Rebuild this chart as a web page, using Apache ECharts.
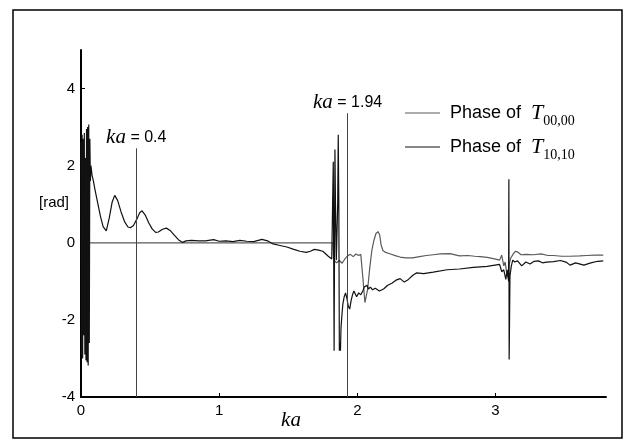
<!DOCTYPE html>
<html><head><meta charset="utf-8">
<script src="https://cdn.jsdelivr.net/npm/echarts@6/dist/echarts.min.js"></script>
<style>html,body{margin:0;padding:0;background:#fff}#c{width:636px;height:446px}</style>
</head><body><div id="c"></div>
<script>
// Phase of T00,00 (grey)
const ka00 = [0.000, 1.822, 1.830, 1.850, 1.870, 1.890, 1.910, 1.930, 1.950, 1.970, 1.990, 2.010, 2.025, 2.040, 2.055, 2.065, 2.075, 2.090, 2.105, 2.120, 2.135, 2.150, 2.162, 2.172, 2.185, 2.205, 2.240, 2.280, 2.310, 2.350, 2.400, 2.450, 2.500, 2.550, 2.600, 2.670, 2.740, 2.800, 2.850, 2.890, 2.940, 2.985, 3.030, 3.045, 3.060, 3.070, 3.080, 3.090, 3.100, 3.110, 3.120, 3.130, 3.145, 3.165, 3.185, 3.220, 3.275, 3.330, 3.380, 3.420, 3.480, 3.540, 3.610, 3.660, 3.720, 3.780];
const phase00 = [0, 0, -0.45, -0.52, -0.46, -0.53, -0.42, -0.34, -0.30, -0.36, -0.29, -0.33, -0.30, -0.90, -1.55, -1.60, -1.20, -0.65, -0.20, 0.06, 0.24, 0.29, 0.20, -0.05, -0.20, -0.25, -0.29, -0.34, -0.37, -0.39, -0.39, -0.36, -0.33, -0.31, -0.29, -0.28, -0.34, -0.33, -0.35, -0.36, -0.38, -0.41, -0.45, -0.32, -0.60, -0.50, -0.75, -0.90, -0.55, -0.40, -0.45, -0.28, -0.22, -0.25, -0.31, -0.30, -0.31, -0.29, -0.33, -0.33, -0.35, -0.35, -0.34, -0.33, -0.32, -0.32];

// Phase of T10,10 (black)
const ka10 = [0.000, 0.004, 0.008, 0.012, 0.016, 0.020, 0.024, 0.028, 0.032, 0.036, 0.040, 0.044, 0.048, 0.052, 0.056, 0.060, 0.064, 0.068, 0.072, 0.080, 0.090, 0.100, 0.120, 0.140, 0.160, 0.183, 0.205, 0.225, 0.244, 0.265, 0.290, 0.315, 0.340, 0.357, 0.380, 0.405, 0.425, 0.442, 0.465, 0.490, 0.515, 0.540, 0.560, 0.590, 0.618, 0.645, 0.675, 0.705, 0.735, 0.760, 0.800, 0.850, 0.900, 0.960, 1.000, 1.050, 1.100, 1.150, 1.200, 1.250, 1.310, 1.350, 1.390, 1.440, 1.490, 1.540, 1.585, 1.630, 1.660, 1.690, 1.720, 1.750, 1.790, 1.815, 1.822, 1.826, 1.832, 1.838, 1.842, 1.848, 1.853, 1.858, 1.862, 1.866, 1.870, 1.874, 1.878, 1.882, 1.888, 1.895, 1.905, 1.915, 1.925, 1.935, 1.945, 1.955, 1.965, 1.975, 1.985, 1.995, 2.010, 2.025, 2.040, 2.050, 2.058, 2.064, 2.070, 2.080, 2.095, 2.110, 2.130, 2.160, 2.190, 2.220, 2.250, 2.280, 2.310, 2.340, 2.370, 2.400, 2.430, 2.480, 2.550, 2.650, 2.740, 2.840, 2.940, 3.030, 3.045, 3.060, 3.075, 3.085, 3.095, 3.097, 3.099, 3.105, 3.115, 3.125, 3.140, 3.160, 3.190, 3.220, 3.250, 3.280, 3.310, 3.340, 3.370, 3.420, 3.470, 3.510, 3.540, 3.580, 3.640, 3.690, 3.740, 3.780];
const phase10 = [2.60, -2.90, 2.80, -3.00, 2.70, -2.40, 2.85, -2.90, 2.20, -3.05, 2.95, -3.10, 3.00, -3.18, 3.07, -2.60, 2.70, 1.60, 2.00, 1.75, 1.60, 1.40, 1.05, 0.70, 0.42, 0.31, 0.65, 1.05, 1.23, 1.10, 0.80, 0.55, 0.41, 0.39, 0.45, 0.62, 0.78, 0.83, 0.72, 0.52, 0.36, 0.27, 0.28, 0.35, 0.38, 0.32, 0.20, 0.08, 0.01, 0.05, 0.06, 0.05, 0.05, 0.08, 0.04, 0.05, 0.03, 0.06, 0.04, 0.03, 0.09, 0.05, -0.03, -0.07, -0.11, -0.17, -0.22, -0.25, -0.22, -0.17, -0.19, -0.22, -0.35, -0.42, -0.45, 2.10, -2.80, 2.42, 1.00, -0.45, -0.50, 1.00, 2.80, 1.10, -2.80, -2.60, -2.80, -2.20, -1.90, -1.60, -1.40, -1.30, -1.45, -1.65, -1.72, -1.50, -1.35, -1.25, -1.30, -1.40, -1.30, -1.35, -1.25, -1.15, -1.20, -1.15, -1.10, -1.20, -1.15, -1.22, -1.18, -1.25, -1.20, -1.10, -1.05, -0.97, -0.93, -1.02, -0.95, -0.85, -0.78, -0.80, -0.76, -0.70, -0.68, -0.64, -0.61, -0.56, -0.75, -0.70, -0.95, -0.70, -1.00, 1.65, -3.03, -0.85, -0.60, -0.45, -0.50, -0.47, -0.60, -0.50, -0.55, -0.48, -0.47, -0.52, -0.50, -0.49, -0.46, -0.50, -0.58, -0.52, -0.58, -0.52, -0.48, -0.47];

// marker lines
const markerKa = [0.4, 1.93];
const markerTop = [2.45, 3.36];
const markerText = ['0.4', '1.94'];

// axis ticks
const xTicks = [0, 1, 2, 3];
const yTicks = [-4, -2, 0, 2, 4];

const zip = (a, b) => a.slice(0, Math.min(a.length, b.length)).map((v, i) => [v, b[i]]);

const SANS = 'Liberation Sans, Arial, sans-serif';
const SERIF = 'Liberation Serif, Times New Roman, serif';

const chart = echarts.init(document.getElementById('c'), null, {renderer: 'canvas'});
chart.setOption({
  backgroundColor: '#fff',
  animation: false,
  grid: {left: 81, right: 30, top: 50, bottom: 49, containLabel: false},
  xAxis: {
    type: 'value', min: 0, max: 3.8,
    axisLine: {onZero: false, lineStyle: {color: '#000', width: 2}},
    axisTick: {inside: true, length: 4, lineStyle: {color: '#000', width: 1}, customValues: xTicks},
    axisLabel: {customValues: xTicks, color: '#000', fontFamily: SANS, fontSize: 15, margin: 6},
    splitLine: {show: false}
  },
  yAxis: {
    type: 'value', min: -4, max: 5,
    axisLine: {show: true, onZero: false, lineStyle: {color: '#000', width: 2}},
    axisTick: {show: true, inside: true, length: 4, lineStyle: {color: '#000', width: 1}, customValues: yTicks},
    axisLabel: {customValues: yTicks, color: '#000', fontFamily: SANS, fontSize: 15, margin: 6},
    splitLine: {show: false}
  },
  legend: {
    orient: 'vertical', left: 400, top: 97, itemWidth: 35, itemHeight: 1.2, itemGap: 8,
    icon: 'rect',
    data: ['T00', 'T10'],
    textStyle: {
      padding: [0, 0, 0, 5],
      rich: {
        p: {fontFamily: SANS, fontSize: 18, color: '#000', lineHeight: 22},
        t: {fontFamily: SERIF, fontStyle: 'italic', fontSize: 22, color: '#000', lineHeight: 22},
        s: {fontFamily: SERIF, fontSize: 14, color: '#000', verticalAlign: 'bottom', lineHeight: 30}
      }
    },
    formatter: n => n === 'T00' ? '{p|Phase of  }{t|T}{s|00,00}' : '{p|Phase of  }{t|T}{s|10,10}'
  },
  graphic: [
    {type: 'rect', shape: {x: 13, y: 10, width: 609, height: 428}, style: {fill: 'none', stroke: '#000', lineWidth: 1.5}, silent: true},
    {type: 'text', x: 54, y: 203, style: {text: '[rad]', font: '15px ' + SANS, fill: '#000', textAlign: 'center', textVerticalAlign: 'middle'}},
    {type: 'text', x: 291, y: 420, style: {text: 'ka', font: 'italic 21px ' + SERIF, fill: '#000', textAlign: 'center', textVerticalAlign: 'middle'}}
  ],
  series: [
    {
      name: 'T00', type: 'line', data: zip(ka00, phase00), symbol: 'none', showSymbol: false,
      lineStyle: {color: '#5a5a5a', width: 1.2}, itemStyle: {color: '#5a5a5a'}, z: 2
    },
    {
      name: 'T10', type: 'line', data: zip(ka10, phase10), symbol: 'none', showSymbol: false,
      lineStyle: {color: '#111', width: 1.2}, itemStyle: {color: '#111'}, z: 3,
      markLine: {
        silent: true, symbol: 'none', animation: false,
        lineStyle: {color: '#444', width: 1, type: 'solid'},
        data: markerKa.map((k, i) => [
          {coord: [k, -4]},
          {coord: [k, markerTop[i]],
           label: {show: true, position: 'end', distance: 0,
             formatter: '{i|ka}{n| = ' + markerText[i] + '}',
             rich: {
               i: {fontFamily: SERIF, fontStyle: 'italic', fontSize: 21, color: '#000'},
               n: {fontFamily: SANS, fontSize: 16, color: '#000'}
             }}}
        ])
      }
    }
  ]
});
</script>
</body></html>
